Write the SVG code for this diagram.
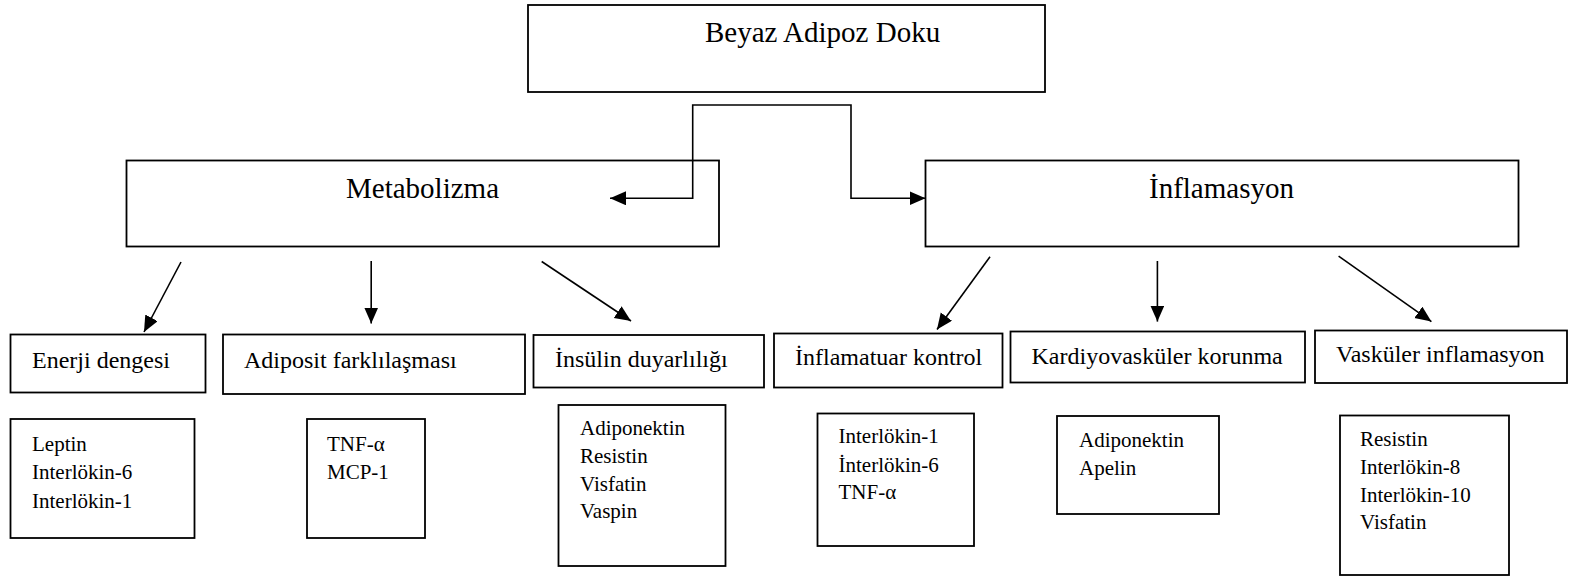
<svg xmlns="http://www.w3.org/2000/svg" width="1569" height="577" viewBox="0 0 1569 577" font-family="'Liberation Serif', 'Times New Roman', serif">
<style>
text{font-family:"Liberation Serif","Times New Roman",serif;fill:#000}
.box{fill:#fff;stroke:#000;stroke-width:1.8}
.big{font-size:29px}
.mid{font-size:24px}
.sm{font-size:21px}
.con{fill:none;stroke:#000;stroke-width:1.6}
</style>
<defs>
<marker id="ah" markerUnits="userSpaceOnUse" markerWidth="17" markerHeight="15" refX="16" refY="7" orient="auto">
<path d="M0,0 L16,7 L0,14 Z" fill="#000"/>
</marker>
</defs>
<rect width="1569" height="577" fill="#fff"/>
<g id="n-beyaz"><rect class="box" x="528" y="5" width="517" height="87"/><text class="big" x="705" y="42">Beyaz Adipoz Doku</text></g>
<g id="n-metabolizma"><rect class="box" x="126.5" y="160.5" width="592.5" height="86"/><text class="big" x="346" y="198">Metabolizma</text></g>
<g id="n-inflamasyon"><rect class="box" x="925.5" y="160.5" width="593" height="86"/><text class="big" x="1149" y="198">İnflamasyon</text></g>
<g id="n-enerji"><rect class="box" x="10.5" y="334.5" width="195" height="58"/><text class="mid" x="32" y="368">Enerji dengesi</text></g>
<g id="n-adiposit"><rect class="box" x="223" y="334.5" width="302" height="59.5"/><text class="mid" x="244" y="368">Adiposit farklılaşması</text></g>
<g id="n-insulin"><rect class="box" x="533.5" y="335" width="230.5" height="52.5"/><text class="mid" x="555" y="367">İnsülin duyarlılığı</text></g>
<g id="n-inflamatuar"><rect class="box" x="774" y="333.5" width="228.5" height="54"/><text class="mid" x="795" y="365">İnflamatuar kontrol</text></g>
<g id="n-kardiyo"><rect class="box" x="1010.5" y="331.5" width="294.5" height="51"/><text class="mid" x="1031.5" y="364">Kardiyovasküler korunma</text></g>
<g id="n-vaskuler"><rect class="box" x="1315" y="330.5" width="252" height="52.5"/><text class="mid" x="1336" y="362">Vasküler inflamasyon</text></g>
<g id="n-list1"><rect class="box" x="10.5" y="419" width="184" height="119"/><text class="sm"><tspan x="32" y="450.5">Leptin</tspan><tspan x="32" y="479">Interlökin-6</tspan><tspan x="32" y="507.5">Interlökin-1</tspan></text></g>
<g id="n-list2"><rect class="box" x="307" y="419" width="118" height="119"/><text class="sm"><tspan x="327" y="450.5">TNF-α</tspan><tspan x="327" y="479">MCP-1</tspan></text></g>
<g id="n-list3"><rect class="box" x="558.5" y="405" width="167" height="161"/><text class="sm"><tspan x="580" y="435">Adiponektin</tspan><tspan x="580" y="462.7">Resistin</tspan><tspan x="580" y="490.5">Visfatin</tspan><tspan x="580" y="518.3">Vaspin</tspan></text></g>
<g id="n-list4"><rect class="box" x="817.5" y="413.5" width="156.5" height="132.5"/><text class="sm"><tspan x="838.5" y="443.3">Interlökin-1</tspan><tspan x="838.5" y="471.5">İnterlökin-6</tspan><tspan x="838.5" y="499.3">TNF-α</tspan></text></g>
<g id="n-list5"><rect class="box" x="1057" y="416" width="162" height="98"/><text class="sm"><tspan x="1079" y="446.5">Adiponektin</tspan><tspan x="1079" y="475">Apelin</tspan></text></g>
<g id="n-list6"><rect class="box" x="1340" y="415.5" width="169" height="159.5"/><text class="sm"><tspan x="1360" y="446">Resistin</tspan><tspan x="1360" y="474">Interlökin-8</tspan><tspan x="1360" y="501.7">Interlökin-10</tspan><tspan x="1360" y="529.3">Visfatin</tspan></text></g>
<g id="connectors">
<path class="con" d="M772,105 H692.7 V198.3 H610" marker-end="url(#ah)"/>
<path class="con" d="M772,105 H851 V198.3 H925.5" marker-end="url(#ah)"/>
<line class="con" x1="181" y1="262" x2="144" y2="332" marker-end="url(#ah)"/>
<line class="con" x1="371.2" y1="261" x2="371.2" y2="323.5" marker-end="url(#ah)"/>
<line class="con" x1="541.7" y1="261.5" x2="631" y2="321" marker-end="url(#ah)"/>
<line class="con" x1="990" y1="256.7" x2="937" y2="329.5" marker-end="url(#ah)"/>
<line class="con" x1="1157.4" y1="261" x2="1157.4" y2="321.6" marker-end="url(#ah)"/>
<line class="con" x1="1338.6" y1="256.2" x2="1431.4" y2="321.6" marker-end="url(#ah)"/>
</g>
</svg>
